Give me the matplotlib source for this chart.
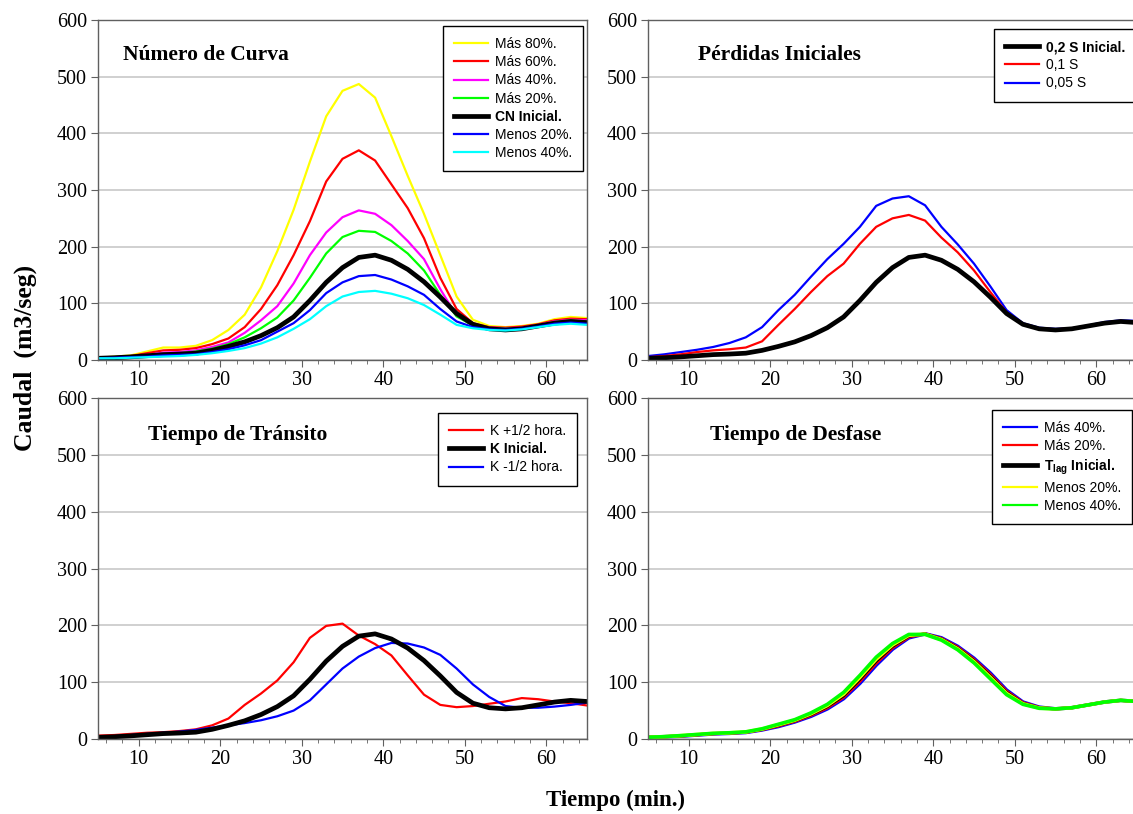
import matplotlib
matplotlib.use('Agg')
import matplotlib.pyplot as plt
from matplotlib.ticker import MultipleLocator

plt.rcParams['font.family'] = ['Liberation Serif', 'DejaVu Serif']
plt.rcParams['mathtext.default'] = 'regular'

# tiempo (min.)
t = [5, 7, 9, 11, 13, 15, 17, 19, 21, 23, 25, 27, 29, 31, 33, 35,
     37, 39, 41, 43, 45, 47, 49, 51, 53, 55, 57, 59, 61, 63, 65]

# hidrograma inicial (caudal m3/seg)
base = [3, 4, 5.5, 7.5, 9.5, 10.5, 12, 17, 24, 32, 43, 57, 76, 105, 137, 163,
        181, 185, 176, 160, 138, 111, 82, 63, 55, 53, 55, 60, 65, 68, 66]

# Numero de curva
cn_mas80 = [4, 6, 8, 15, 22, 22, 25, 35, 53, 80, 128, 192, 265, 350, 430, 475,
            487, 463, 395, 325, 258, 185, 112, 71, 60, 58, 60, 64, 72, 76, 74]
cn_mas60 = [4, 5, 7, 12, 17, 18, 21, 28, 38, 58, 90, 132, 185, 245, 315, 355,
            370, 352, 310, 268, 215, 145, 90, 65, 58, 57, 59, 63, 70, 73, 72]
cn_mas40 = [3, 5, 6, 9, 13, 14, 17, 23, 31, 48, 70, 95, 135, 185, 225, 252,
            264, 258, 238, 210, 178, 125, 78, 62, 57, 56, 57, 62, 68, 71, 70]
cn_mas20 = [3, 4, 6, 8, 11, 12, 15, 20, 28, 40, 56, 75, 105, 145, 188, 217,
            228, 226, 210, 188, 158, 115, 77, 61, 56, 55, 56, 61, 67, 70, 68]
cn_men20 = [3, 4, 5, 6, 8, 9, 10, 14, 19, 26, 35, 50, 65, 88, 118, 137,
            148, 150, 142, 130, 115, 90, 68, 58, 54, 53, 55, 59, 64, 66, 64]
cn_men40 = [3, 3, 4, 5, 6, 7, 9, 12, 16, 21, 29, 40, 55, 72, 95, 112,
            120, 122, 117, 109, 97, 80, 62, 56, 53, 52, 54, 58, 62, 64, 62]

# Perdidas iniciales
s_01 = [5, 7, 10, 14, 17, 19, 22, 33, 62, 90, 120, 148, 170, 205, 235, 250,
        256, 246, 216, 190, 158, 120, 84, 64, 56, 54, 56, 60, 66, 69, 67]
s_005 = [7, 10, 14, 18, 23, 30, 40, 58, 88, 115, 147, 178, 205, 235, 272, 285,
         289, 273, 235, 204, 170, 130, 88, 65, 57, 55, 56, 61, 67, 70, 69]

# Tiempo de transito
k_mas = [6, 7, 9, 11, 12, 14, 17, 24, 36, 60, 80, 103, 135, 178, 199, 203,
         182, 167, 147, 112, 78, 60, 56, 58, 62, 66, 72, 70, 66, 63, 59]
k_men = [4, 5, 7, 9, 11, 13, 16, 20, 24, 28, 33, 40, 50, 68, 96, 124,
         145, 160, 169, 168, 161, 148, 124, 96, 74, 58, 55, 55, 57, 60, 64]

# Tiempo de desfase
lag_mas40 = [3, 4, 5, 7, 9, 10, 11.5, 16, 22, 30, 40, 53, 71, 98, 130, 158,
             178, 185, 178, 163, 142, 116, 86, 65, 56, 53, 55, 60, 65, 68, 66]
lag_mas20 = [3, 4, 5.2, 7.2, 9.2, 10.2, 11.8, 16.5, 23, 31, 41.5, 55, 73.5, 101.5, 133.5, 160.5,
             179.5, 185, 177, 161.5, 140, 113.5, 84, 64, 55.5, 53, 55, 60, 65, 68, 66]
lag_men20 = [3, 4, 5.8, 7.8, 9.8, 10.8, 12.3, 17.5, 25, 33, 44.5, 59, 79, 108.5, 140.5, 165.5,
             182.5, 184.5, 175, 158.5, 136, 108.5, 80, 62, 54.5, 53, 55, 60, 65, 68, 66]
lag_men40 = [3, 4.2, 6, 8, 10, 11, 12.6, 18, 26, 34, 46, 61, 82, 112, 144, 168,
             184, 184, 174, 157, 134, 106, 78, 61, 54, 53, 55, 60, 65, 68, 66]

YEL, RED, MAG, GRN, BLU, CYA = '#ffff00', '#ff0000', '#ff00ff', '#00ff00', '#0000ff', '#00ffff'
LW = 1.6
LWB = 3.4

W, H = 1133, 814
fig = plt.figure(figsize=(W / 100, H / 100), dpi=100)


def make_ax(x0, y0, x1, y1):
    ax = fig.add_axes([x0 / W, 1 - y1 / H, (x1 - x0) / W, (y1 - y0) / H])
    ax.set_xlim(5, 65)
    ax.set_ylim(0, 600)
    ax.xaxis.set_major_locator(MultipleLocator(10))
    ax.xaxis.set_minor_locator(MultipleLocator(2))
    ax.yaxis.set_major_locator(MultipleLocator(100))
    ax.grid(axis='y', color='#c8c8c8', lw=1.2)
    ax.set_axisbelow(True)
    for sp in ax.spines.values():
        sp.set_color('#606060')
        sp.set_linewidth(1.0)
    ax.tick_params(axis='both', which='major', labelsize=14.5, length=5, color='#606060', pad=3)
    ax.tick_params(axis='x', which='minor', length=3, color='#606060')
    return ax


def make_legend(ax, handles_labels, bold, x1, y0):
    lines = [h for h, _ in handles_labels]
    labels = [l for _, l in handles_labels]
    leg = ax.legend(lines, labels, loc='upper right',
                    bbox_to_anchor=(x1 / W, 1 - y0 / H), bbox_transform=fig.transFigure,
                    prop={'family': 'Liberation Sans', 'size': 10},
                    frameon=True, fancybox=False, edgecolor='black', framealpha=1,
                    handlelength=2.4, handletextpad=0.5, labelspacing=0.3,
                    borderpad=0.8, borderaxespad=0)
    leg.get_frame().set_linewidth(1.0)
    for i in bold:
        leg.get_texts()[i].set_fontweight('bold')
    return leg


def title(ax, txt, x, y):
    ax.text(x, y, txt, transform=ax.transAxes, fontsize=15.5, fontweight='bold',
            ha='left', va='center')


# --- Numero de Curva
ax1 = make_ax(98, 20, 587, 360)
l_y, = ax1.plot(t, cn_mas80, color=YEL, lw=LW)
l_r, = ax1.plot(t, cn_mas60, color=RED, lw=LW)
l_m, = ax1.plot(t, cn_mas40, color=MAG, lw=LW)
l_g, = ax1.plot(t, cn_mas20, color=GRN, lw=LW)
l_k, = ax1.plot(t, base, color='black', lw=LWB)
l_b, = ax1.plot(t, cn_men20, color=BLU, lw=LW)
l_c, = ax1.plot(t, cn_men40, color=CYA, lw=LW)
title(ax1, 'Número de Curva', 0.051, 0.897)
make_legend(ax1, [(l_y, 'Más 80%.'), (l_r, 'Más 60%.'), (l_m, 'Más 40%.'), (l_g, 'Más 20%.'),
                  (l_k, 'CN Inicial.'), (l_b, 'Menos 20%.'), (l_c, 'Menos 40%.')], [4], 583, 26)

# --- Perdidas Iniciales
ax2 = make_ax(648, 20, 1137, 360)
l_b2, = ax2.plot(t, s_005, color=BLU, lw=LW)
l_r2, = ax2.plot(t, s_01, color=RED, lw=LW)
l_k2, = ax2.plot(t, base, color='black', lw=LWB)
title(ax2, 'Pérdidas Iniciales', 0.102, 0.897)
make_legend(ax2, [(l_k2, '0,2 S Inicial.'), (l_r2, '0,1 S'), (l_b2, '0,05 S')], [0], 1136, 29)

# --- Tiempo de Transito
ax3 = make_ax(98, 398, 587, 739)
l_r3, = ax3.plot(t, k_mas, color=RED, lw=LW)
l_b3, = ax3.plot(t, k_men, color=BLU, lw=LW)
l_k3, = ax3.plot(t, base, color='black', lw=LWB)
title(ax3, 'Tiempo de Tránsito', 0.102, 0.891)
make_legend(ax3, [(l_r3, 'K +1/2 hora.'), (l_k3, 'K Inicial.'), (l_b3, 'K -1/2 hora.')], [1], 577, 413)

# --- Tiempo de Desfase
ax4 = make_ax(648, 398, 1137, 739)
l_b4, = ax4.plot(t, lag_mas40, color=BLU, lw=2.6)
l_r4, = ax4.plot(t, lag_mas20, color=RED, lw=2.2)
l_k4, = ax4.plot(t, base, color='black', lw=2.2)
l_y4, = ax4.plot(t, lag_men20, color=YEL, lw=2.6)
l_g4, = ax4.plot(t, lag_men40, color=GRN, lw=2.6)
title(ax4, 'Tiempo de Desfase', 0.127, 0.891)
h_k4 = plt.Line2D([], [], color='black', lw=LWB)
h_b4 = plt.Line2D([], [], color=BLU, lw=LW)
h_r4 = plt.Line2D([], [], color=RED, lw=LW)
h_y4 = plt.Line2D([], [], color=YEL, lw=LW)
h_g4 = plt.Line2D([], [], color=GRN, lw=LW)
make_legend(ax4, [(h_b4, 'Más 40%.'), (h_r4, 'Más 20%.'), (h_k4, r'T$_{lag}$ Inicial.'),
                  (h_y4, 'Menos 20%.'), (h_g4, 'Menos 40%.')], [2], 1132, 410)

fig.text(25 / W, 1 - 358 / H, 'Caudal  (m3/seg)', rotation=90, fontsize=18.5, fontweight='bold',
         ha='center', va='center')
fig.text(615 / W, 1 - 800 / H, 'Tiempo (min.)', fontsize=16.5, fontweight='bold',
         ha='center', va='center')

fig.savefig('out.png', dpi=100)
